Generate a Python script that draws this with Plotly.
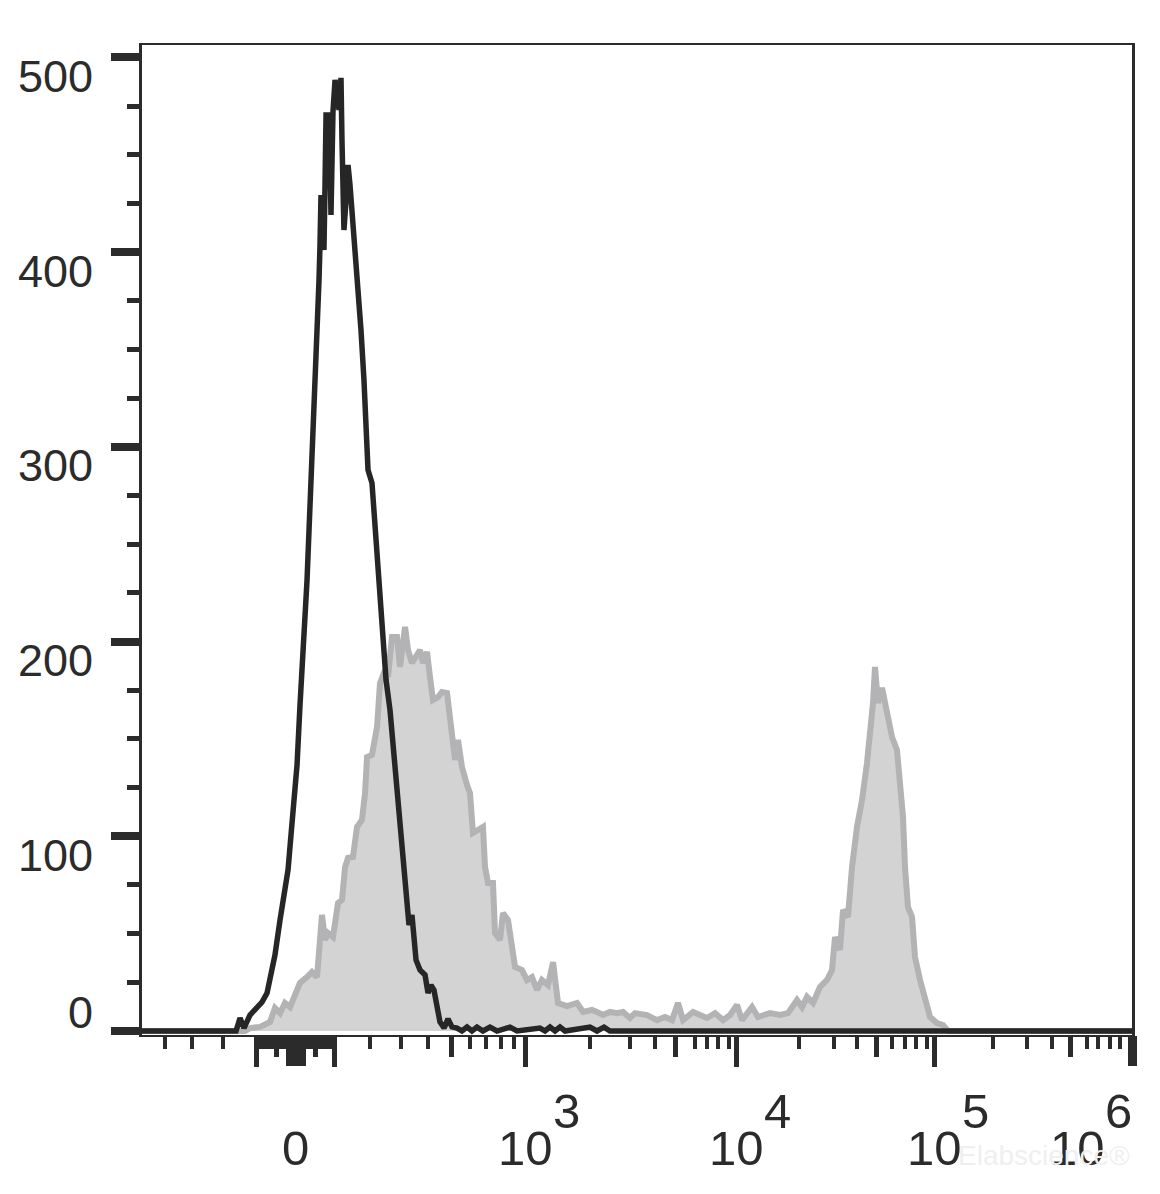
import plotly.graph_objects as go

# ---- data: x in display channels (0-1000, biexponential display), y = event count ----
black_x = [0, 95.0, 99.0, 103.0, 109.1, 115.2, 121.2, 126.3, 130.3, 134.3, 139.4, 143.4, 147.5,
           150.5, 153.5, 156.6, 159.6, 161.6, 164.6, 166.7, 169.7, 171.7, 174.7, 177.8, 178.8,
           179.8, 180.8, 181.8, 182.8, 183.8, 184.8, 185.9, 187.9, 189.9, 190.9, 191.9, 192.9,
           195.0, 197.0, 199.0, 201.0, 202.0, 203.0, 204.0, 206.1, 208.1, 210.1, 212.1, 215.2,
           218.2, 221.2, 224.2, 226.3, 228.3, 232.3, 236.4, 239.4, 242.4, 246.5, 250.5, 255.6,
           260.6, 264.6, 267.7, 269.7, 272.7, 276.8, 280.8, 285.9, 288.9, 291.9, 294.9, 298.0,
           301.0, 305.1, 309.1, 313.1, 318.2, 323.2, 328.3, 333.3, 338.4, 344.4, 351.5, 358.6,
           371.7, 378.8, 402.0, 407.1, 412.1, 417.2, 422.2, 427.3, 452.5, 459.6, 466.7, 472.7, 1000]
black_y = [0, 0, 6.7, 1.5, 8.2, 11.8, 14.9, 19.5, 28.8, 39.0, 57.0, 68.8, 82.7,
           100.7, 118.6, 136.6, 167.4, 190.6, 212.6, 231.6, 266.0, 300.0, 334.4, 368.8, 385.7,
           403.7, 429.4, 419.1, 408.8, 401.1, 432.0, 470.5, 470.5, 447.4, 419.1, 444.8, 472.0,
           488.4, 483.3, 473.0, 489.5, 457.6, 434.5, 411.4, 426.8, 444.8, 434.5, 421.7, 396.0,
           380.6, 360.0, 334.4, 308.7, 288.1, 281.5, 252.2, 221.4, 200.8, 180.3, 164.9, 135.6,
           108.4, 82.7, 64.7, 54.4, 59.6, 36.5, 31.3, 28.8, 19.5, 23.6, 21.1, 10.8,
           4.6, 1.5, 6.2, 2.1, 1.5, 0, 2, 0, 2, 0, 2, 0,
           2, 0, 1.5, 0, 2, 0, 2, 0, 2, 0, 2, 0, 0]

gray_x = [0, 104.0, 109.1, 119.2, 129.3, 134.3, 139.4, 144.4, 149.5, 154.5, 159.6, 166.7, 171.7,
          176.8, 179.8, 181.8, 184.8, 187.9, 192.9, 198.0, 202.0, 205.1, 208.1, 213.1, 217.2,
          222.2, 225.3, 227.3, 232.3, 237.4, 240.4, 245.5, 248.5, 252.5, 257.6, 260.6, 265.7,
          268.7, 272.7, 277.8, 280.8, 283.8, 287.9, 290.9, 293.9, 299.0, 303.0, 308.1, 311.1,
          316.2, 319.2, 323.2, 328.3, 331.3, 334.3, 339.4, 344.4, 346.5, 349.5, 354.5, 356.6,
          361.6, 364.6, 369.7, 376.8, 383.8, 388.9, 393.9, 399.0, 404.0, 410.1, 415.2, 420.2,
          429.3, 439.4, 445.5, 454.5, 459.6, 465.7, 472.7, 479.8, 485.9, 492.9, 498.0, 510.1,
          520.2, 528.3, 535.4, 541.4, 546.5, 556.6, 563.6, 570.7, 578.8, 586.9, 594.0, 601.0,
          606.1, 616.2, 622.2, 634.3, 644.4, 652.5, 661.6, 666.7, 671.7, 677.8, 684.8, 691.9,
          697.0, 700.0, 705.0, 708.1, 713.1, 717.2, 722.2, 727.3, 732.3, 735.4, 738.4, 740.4,
          743.4, 747.5, 752.5, 757.6, 762.6, 765.7, 768.7, 770.7, 773.7, 777.8, 780.8, 785.9,
          790.9, 796.0, 803.0, 809.1, 814.1, 1000]
gray_y = [0, 0, 1.5, 2.1, 4.6, 11.8, 9.2, 14.4, 12.3, 19.5, 24.7, 27.7, 30.3,
          27.7, 50.3, 59.6, 46.7, 50.3, 48.3, 65.7, 67.3, 84.2, 88.9, 89.4, 104.8,
          108.4, 122.2, 140.7, 141.8, 156.1, 178.7, 185.4, 181.8, 202.4, 202.4, 187.0, 207.5,
          195.7, 189.0, 194.1, 195.7, 189.0, 194.7, 181.8, 170.0, 171.5, 174.1, 173.6, 158.2,
          139.2, 149.5, 135.6, 126.3, 122.2, 101.7, 103.2, 104.8, 84.2, 76.0, 76.0, 50.3,
          46.7, 60.6, 57.0, 32.9, 31.3, 26.2, 27.7, 21.1, 26.2, 23.6, 35.4, 14.4,
          12.8, 14.4, 9.8, 10.8, 9.8, 8.2, 9.8, 9.2, 9.8, 6.7, 9.2, 8.2,
          5.6, 7.2, 5.6, 14.4, 5.6, 9.8, 8.2, 6.7, 9.2, 5.6, 8.2, 13.4,
          5.6, 12.3, 7.2, 9.2, 8.2, 9.2, 15.9, 12.3, 17.5, 14.4, 22.6, 26.2,
          31.3, 48.3, 41.6, 62.1, 58.6, 84.2, 104.8, 118.6, 137.6, 153.1, 168.5, 187.0,
          168.5, 176.2, 164.9, 151.0, 144.3, 128.9, 109.9, 84.2, 63.7, 58.6, 38.0, 26.2,
          15.9, 7.2, 4.1, 3.1, 0, 0]

# ---- axis definitions (display-channel positions of fluorescence values) ----
zero_pos = 155.1
lin100_pos = 194.4          # position of +100 (linear zone around zero)
long_tick_pos = [115.7, 194.4, 386.9, 601.0, 801.0]          # -100, 100, 1e3, 1e4, 1e5
medium_tick_pos = [135.5, 174.8, 313.1, 538.4, 742.4, 937.4]  # -50, 50, 500, 5e3, 5e4, 5e5
short_tick_pos = [23.2, 50.5, 81.8, 230.3, 261.6, 288.9, 331.3, 347.5, 362.6, 375.8,
                  452.5, 492.9, 518.2, 558.6, 570.7, 581.8, 593.0,
                  663.6, 699.0, 722.2, 757.6, 770.7, 781.8, 792.9,
                  859.6, 893.9, 919.2, 954.5, 965.7, 977.8, 987.9]
lin_zone_vals = [-90, -80, -70, -60, -40, -30, -20, -10, 10, 20, 30, 40, 60, 70, 80, 90]
end_tick_pos = [1000]

decade_pos = [386.9, 601.0, 801.0, 1000]
decade_exp = ["3", "4", "5", "6"]

y_major = [0, 100, 200, 300, 400, 500]
y_labels = ["0", "100", "200", "300", "400", "500"]
y_minor = [v for v in range(25, 500, 25) if v % 100]

INK = "#2b2b2b"
FONT = "Liberation Sans, Arial, sans-serif"

lin_zone_pos = [zero_pos + v * (lin100_pos - zero_pos) / 100 for v in lin_zone_vals]

fig = go.Figure()
fig.add_trace(go.Scatter(x=gray_x, y=gray_y, mode="lines", fill="tozeroy",
                         fillcolor="#d3d3d3", line=dict(color="#b3b3b5", width=6),
                         hoverinfo="skip"))
fig.add_trace(go.Scatter(x=black_x, y=black_y, mode="lines",
                         line=dict(color="#262626", width=5.5), hoverinfo="skip"))
for ax in ["x2", "x3", "x4"]:
    fig.add_trace(go.Scatter(x=[500], y=[0], xaxis=ax, mode="markers",
                             marker=dict(opacity=0), hoverinfo="skip", showlegend=False))

common = dict(range=[0, 1000], showgrid=False, zeroline=False, showticklabels=False,
              ticks="outside", tickmode="array", tickcolor=INK)

# the page body adds an 8px offset, so the figure is 8px smaller than the window
fig.update_layout(
    width=1152, height=1186,
    margin=dict(l=134, r=28, t=37, b=159, autoexpand=False),
    plot_bgcolor="white", paper_bgcolor="white", showlegend=False,
    xaxis=dict(**common, tickvals=long_tick_pos, ticklen=30, tickwidth=5,
               showline=True, linecolor=INK, linewidth=2, mirror=True,
               minor=dict(ticks="outside", tickmode="array",
                          tickvals=short_tick_pos + lin_zone_pos,
                          ticklen=12, tickwidth=4, tickcolor=INK, showgrid=False)),
    xaxis2=dict(**common, overlaying="x", anchor="y", side="bottom", showline=False,
                tickvals=medium_tick_pos, ticklen=21, tickwidth=5),
    xaxis3=dict(**common, overlaying="x", anchor="y", side="bottom", showline=False,
                tickvals=[zero_pos], ticklen=30, tickwidth=20),
    xaxis4=dict(**common, overlaying="x", anchor="y", side="bottom", showline=False,
                tickvals=end_tick_pos, ticklen=30, tickwidth=9),
    yaxis=dict(range=[-2.05, 506.4], showgrid=False, zeroline=False, showticklabels=False,
               showline=True, linecolor=INK, linewidth=2.5, mirror=True,
               ticks="outside", tickmode="array", tickvals=y_major, ticklen=28,
               tickwidth=8, tickcolor=INK,
               minor=dict(ticks="outside", tickmode="array", tickvals=y_minor,
                          ticklen=12, tickwidth=5, tickcolor=INK, showgrid=False)),
)

ann = []
# y tick labels
for v, t in zip(y_major, y_labels):
    ann.append(dict(xref="paper", yref="y", x=-0.0475, y=v, text=t, showarrow=False,
                    xanchor="right", yanchor="middle", yshift=19 if v == 0 else -19,
                    font=dict(family=FONT, size=45, color=INK)))
# x tick labels
ann.append(dict(xref="x", yref="paper", x=zero_pos, y=0, text="0", showarrow=False,
                xanchor="center", yanchor="middle", yshift=-113,
                font=dict(family=FONT, size=49, color=INK)))
for i, (p, e) in enumerate(zip(decade_pos, decade_exp)):
    dx = -55 if i == len(decade_pos) - 1 else 0
    ann.append(dict(xref="x", yref="paper", x=p, y=0, text="10", showarrow=False,
                    xanchor="center", yanchor="middle", xshift=dx, yshift=-113,
                    font=dict(family=FONT, size=49, color=INK)))
    ann.append(dict(xref="x", yref="paper", x=p, y=0, text=e, showarrow=False,
                    xanchor="center", yanchor="middle", xshift=dx + 41, yshift=-76,
                    font=dict(family=FONT, size=49, color=INK)))
# faint watermark
ann.append(dict(xref="paper", yref="paper", x=1.0, y=0, text="Elabscience®",
                showarrow=False, xanchor="right", yanchor="middle", yshift=-120,
                font=dict(family=FONT, size=28, color="#efefef")))
fig.update_layout(annotations=ann)

fig.write_html("out.html")
